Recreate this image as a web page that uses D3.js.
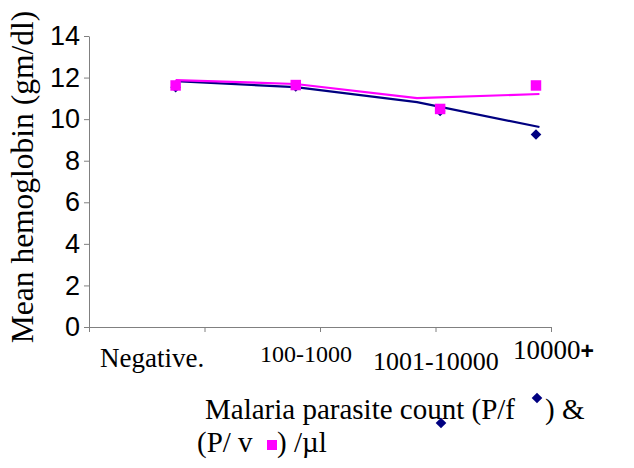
<!DOCTYPE html>
<html>
<head>
<meta charset="utf-8">
<script src="https://cdn.jsdelivr.net/npm/d3@7"></script>
<style>
  body { margin: 0; background: #fff; }
  svg { display: block; }
</style>
</head>
<body>
<svg id="chart" width="634" height="468"></svg>
<script>
// data
const categories = ["Negative.", "100-1000", "1001-10000", "10000+"];
const pfMeans = [11.54, 11.57, 10.39, 9.26];   // P. falciparum, navy diamonds
const pvMeans = [11.62, 11.64, 10.49, 11.62];  // P. vivax, magenta squares
const pfTrend = [11.83, 11.54, 10.82, 9.62];
const pvTrend = [11.88, 11.69, 11.01, 11.21];
// where the markers / trend vertices sit along the category axis (band units)
const markerPos = [0.75, 1.79, 3.04, 3.87];
const trendPos = [0.75, 1.79, 2.84, 3.9];
const yTicks = [0, 2, 4, 6, 8, 10, 12, 14];

const svg = d3.select("#chart");
const serif = "Liberation Serif", sans = "Liberation Sans";
const navy = "#000080", magenta = "#ff00ff", axisCol = "#808080";

const x = d3.scaleLinear().domain([0, categories.length]).range([89, 551]);
const y = d3.scaleLinear().domain([0, 14]).range([327, 36]);

// y axis
const gy = svg.append("g")
    .attr("transform", `translate(${x(0)},0)`)
    .call(d3.axisLeft(y).tickValues(yTicks).tickSize(5).tickSizeOuter(0).tickPadding(4));
gy.select(".domain").attr("stroke", axisCol);
gy.selectAll(".tick line").attr("stroke", axisCol);
gy.selectAll(".tick text")
    .style("font-family", sans)
    .style("font-size", "27px")
    .attr("fill", "#000");

// x axis (ticks at category boundaries, labels placed by hand below)
const gx = svg.append("g")
    .attr("transform", `translate(0,${y(0)})`)
    .call(d3.axisBottom(x).tickValues(d3.range(categories.length + 1)).tickSize(5)
        .tickSizeOuter(0).tickFormat(""));
gx.select(".domain").attr("stroke", axisCol);
gx.selectAll(".tick line").attr("stroke", axisCol);

// the category labels are shifted oddly in the original
const labelX = [100, 260, 373, 513];
const labelY = [367, 362, 370, 359];
const labelSize = [27, 24, 26, 27];
categories.forEach((c, i) => {
    const t = svg.append("text").attr("x", labelX[i]).attr("y", labelY[i])
        .style("font-family", serif).style("font-size", labelSize[i] + "px").attr("fill", "#000");
    if (c.endsWith("+")) {
        t.append("tspan").text(c.slice(0, -1));
        t.append("tspan").style("font-family", sans).style("font-weight", "bold")
            .style("font-size", "23px").text("+");
    } else {
        t.text(c);
    }
});

// y title
svg.append("text")
    .attr("transform", "translate(33,177) rotate(-90)")
    .attr("text-anchor", "middle")
    .style("font-family", serif)
    .style("font-size", "31.5px")
    .attr("fill", "#000")
    .text("Mean hemoglobin (gm/dl)");

// trend lines
const line = d3.line().x(d => x(d[0])).y(d => y(d[1]));
svg.append("path")
    .datum(d3.zip(trendPos, pfTrend))
    .attr("fill", "none").attr("stroke", navy).attr("stroke-width", 2.2)
    .attr("d", line);
svg.append("path")
    .datum(d3.zip(trendPos, pvTrend))
    .attr("fill", "none").attr("stroke", magenta).attr("stroke-width", 2.2)
    .attr("d", line);

const diamond = d3.symbol().type(d3.symbolDiamond2).size(72);
const square = d3.symbol().type(d3.symbolSquare).size(110);

svg.append("g").selectAll("path")
    .data(d3.zip(markerPos, pfMeans))
    .join("path")
    .attr("d", diamond)
    .attr("fill", navy)
    .attr("transform", d => `translate(${x(d[0])},${y(d[1])})`);

svg.append("g").selectAll("path")
    .data(d3.zip(markerPos, pvMeans))
    .join("path")
    .attr("d", square)
    .attr("fill", magenta)
    .attr("transform", d => `translate(${x(d[0])},${y(d[1])})`);

// x title with inline symbols
const titleText = (tx, ty, s) => svg.append("text").attr("x", tx).attr("y", ty)
    .style("font-family", serif).style("font-size", "29px").attr("fill", "#000").text(s);
titleText(205, 419, "Malaria parasite count (P/f");
titleText(545, 419, ") &");
titleText(197, 452, "(P/ v");
titleText(277, 452, ") /µl");
svg.append("path").attr("d", diamond).attr("fill", navy).attr("transform", "translate(537,398)");
svg.append("path").attr("d", diamond).attr("fill", navy).attr("transform", "translate(441,423)");
svg.append("path").attr("d", d3.symbol().type(d3.symbolSquare).size(100)).attr("fill", magenta)
    .attr("transform", "translate(272,445)");
</script>
</body>
</html>
